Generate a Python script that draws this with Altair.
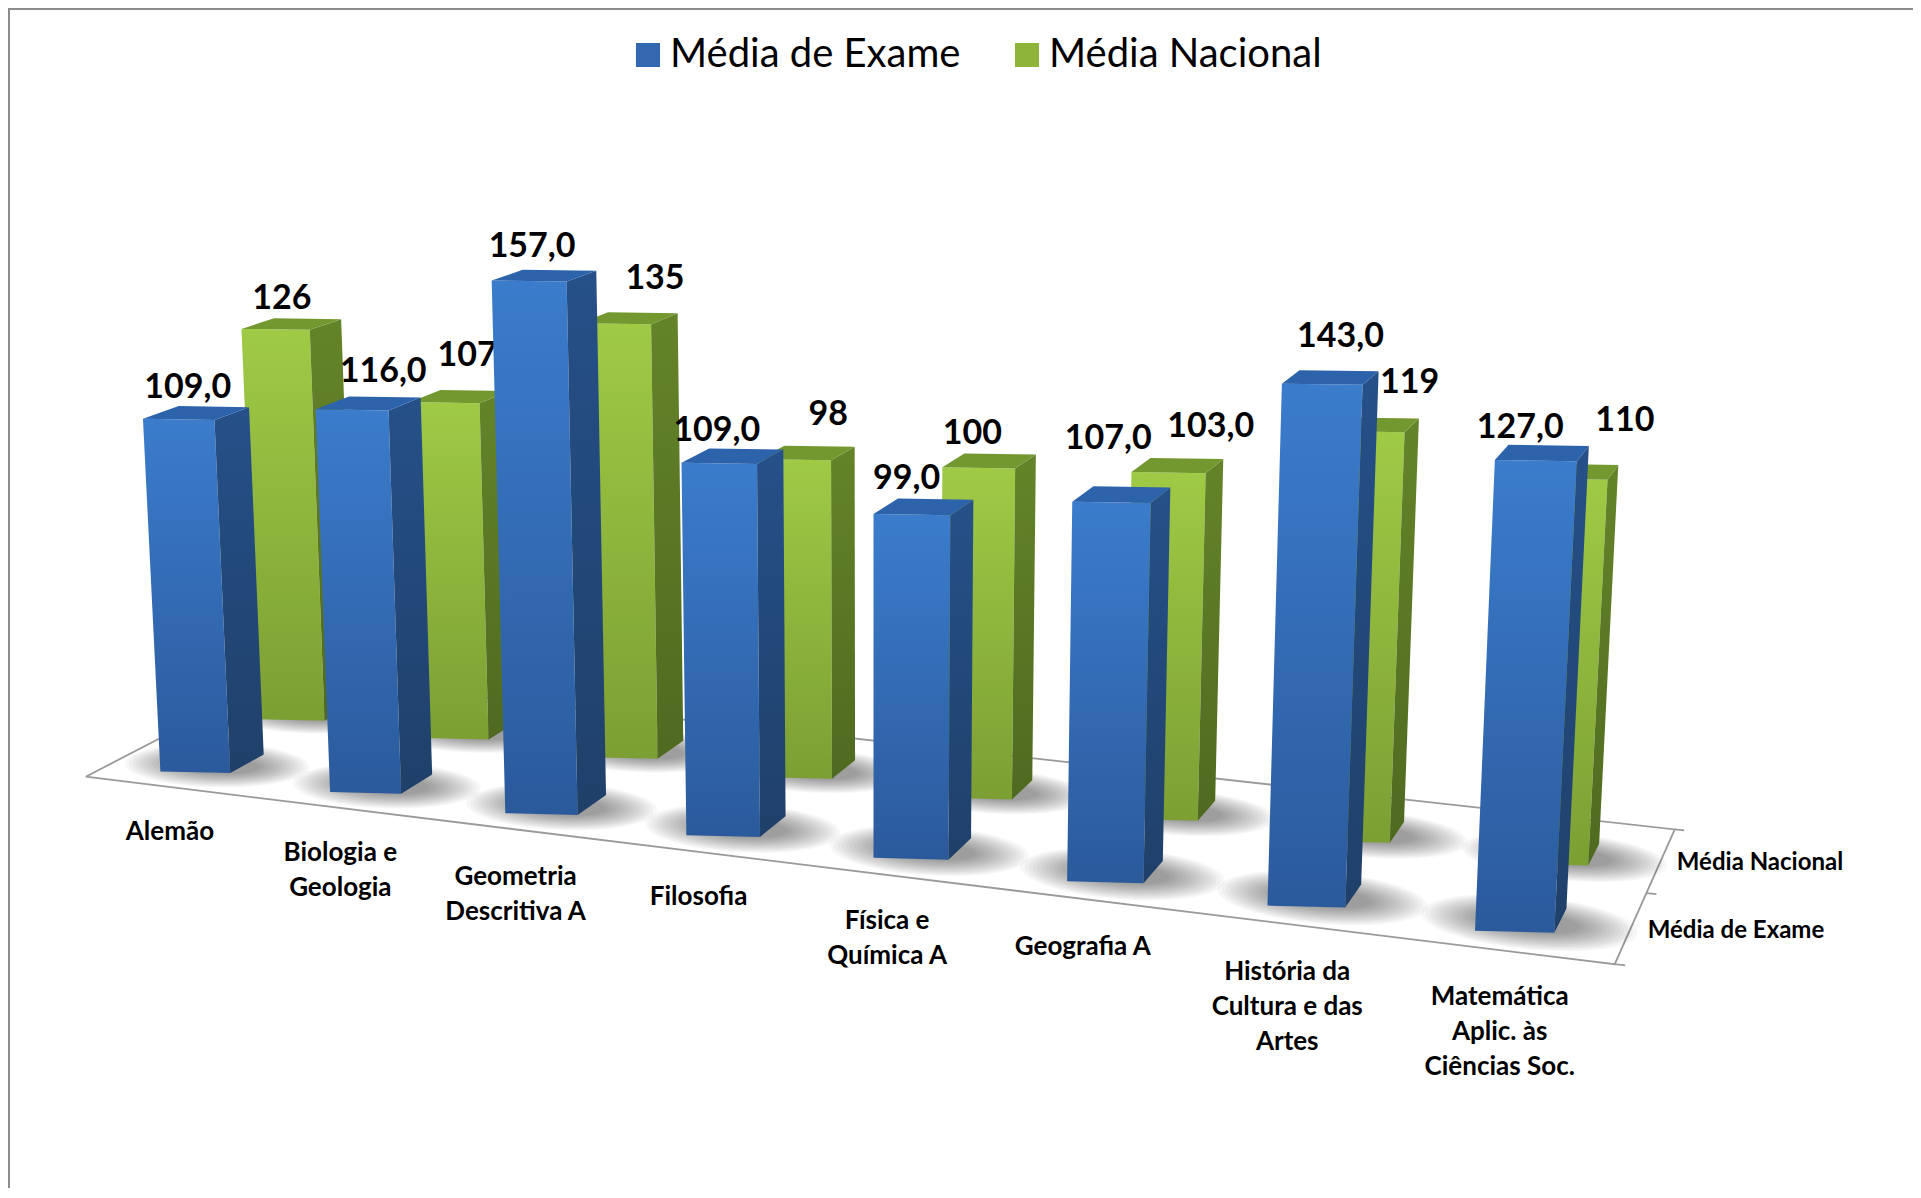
import math
import altair as alt

# ---- values ----
CATEGORIES = ["Alemão", "Biologia e\nGeologia", "Geometria\nDescritiva A", "Filosofia",
              "Física e\nQuímica A", "Geografia A", "História da\nCultura e das\nArtes",
              "Matemática\nAplic. às\nCiências Soc."]
SERIES = ["Média de Exame", "Média Nacional"]
EXAME = [109, 116, 157, 109, 99, 107, 143, 127]
NACIONAL = [126, 107, 135, 98, 100, 103, 119, 110]
EXAME_TEXT = ["109,0", "116,0", "157,0", "109,0", "99,0", "107,0", "143,0", "127,0"]
NACIONAL_TEXT = ["126", "107", "135", "98", "100", "103,0", "119", "110"]

# ---- style ----
W, H = 1905, 1180
S = 1921 / 1568
OFF = 8
BLUE_TOP, BLUE_MID, BLUE_LOW, BLUE_SIDE1, BLUE_SIDE2, BLUE_CAP = "#3b7ccc", "#3268b0", "#2b5a9c", "#265089", "#1f4069", "#2c63ab"
GRN_TOP, GRN_LOW, GRN_SIDE1, GRN_SIDE2, GRN_CAP = "#9fca45", "#7c9f33", "#648429", "#4f6a20", "#73982f"
FONT = "Lato"

# label nudges, in overview pixels
EXAME_NUDGE = [(3, 5), (22, 0), (0, 1), (-3, 6), (-4, 4), (-1, -19), (18, -7), (-8, 6)]
NACIONAL_NUDGE = [(-16, 4), (-2, -8), (13, -7), (9, -5), (-22, 4), (19, -5), (21, -8), (33, -15)]
CAT_SHIFT = [(64, -9), (58, -10), (51, -10), (45, -13), (38, -14), (31, -14), (25, -16), (19, -18)]

# ---- the perspective floor: corners in reference overview pixels ----
FL, FR, BR, BL = (70, 634), (1318, 787), (1367, 677), (230, 551)
VP = (713, 12400)
KZ = 2.2e-4
KZ_GROW = 0.025
BAR_DU, BAR_DV, BAR_DEPTH = 0.0445, 0.05, 0.17
V_ROW = {0: 0.105, 1: 0.60}

dx1, dx2, sx = FR[0] - BR[0], BL[0] - BR[0], FL[0] - FR[0] + BR[0] - BL[0]
dy1, dy2, sy = FR[1] - BR[1], BL[1] - BR[1], FL[1] - FR[1] + BR[1] - BL[1]
den = dx1 * dy2 - dx2 * dy1
G = (sx * dy2 - dx2 * sy) / den
Hh = (dx1 * sy - sx * dy1) / den
A = (FR[0] - FL[0] + G * FR[0], BL[0] - FL[0] + Hh * BL[0], FL[0])
B = (FR[1] - FL[1] + G * FR[1], BL[1] - FL[1] + Hh * BL[1], FL[1])


def proj(u, v, val=0):
    w = 1 + G * u + Hh * v
    nx = A[0] * u + A[1] * v + A[2]
    ny = B[0] * u + B[1] * v + B[2]
    kv = KZ * (1 + KZ_GROW * u) * val
    return ((nx - kv * VP[0]) / (w - kv) * S - OFF, (ny - kv * VP[1]) / (w - kv) * S - OFF)


def poly(points, series="", name=""):
    ring = [list(p) for p in points] + [list(points[0])]
    return {"type": "Feature", "properties": {"series": series, "name": name},
            "geometry": {"type": "Polygon", "coordinates": [ring]}}


def line(points):
    return {"type": "Feature", "properties": {},
            "geometry": {"type": "LineString", "coordinates": [list(p) for p in points]}}


def box(i, s, val):
    uc = (i + 0.5) / 8 - 0.001
    u0 = uc - BAR_DU / 2
    u1 = uc + BAR_DU / 2
    v0 = V_ROW[s]
    v1 = v0 + BAR_DV
    d = BAR_DEPTH
    fl, fr = (u0, v0), (u1, v1)
    bl, br = (u0, v0 + d), (u1, v1 + d)
    front = [proj(*fl, val), proj(*fr, val), proj(*fr), proj(*fl)]
    side = [proj(*fr, val), proj(*br, val), proj(*br), proj(*fr)]
    top = [proj(*fl, val), proj(*fr, val), proj(*br, val), proj(*bl, val)]
    return front, side, top


def shadow(i, s):
    uc = (i + 0.5) / 8 + 0.004
    vc = V_ROW[s] + 0.10
    out = []
    for k in range(14):
        ru = 0.030 + 0.0026 * k
        rv = 0.07 + 0.0085 * k
        pts = [proj(uc + ru * math.cos(t * math.pi / 18), vc + rv * math.sin(t * math.pi / 18)) for t in range(36)]
        out.append(poly(pts))
    return out


ROWS = [(1, NACIONAL, NACIONAL_TEXT, NACIONAL_NUDGE), (0, EXAME, EXAME_TEXT, EXAME_NUDGE)]
geo = {s: {"front": [], "side": [], "top": [], "shadow": [], "label": []} for s, _, _, _ in ROWS}
for s, vals, texts, nudges in ROWS:
    for i, val in enumerate(vals):
        f, sd, t = box(i, s, val)
        geo[s]["front"].append(poly(f, SERIES[s]))
        geo[s]["side"].append(poly(sd, SERIES[s]))
        geo[s]["top"].append(poly(t, SERIES[s]))
        geo[s]["shadow"].extend(shadow(i, s))
        cx = sum(p[0] for p in t) / 4
        cy = min(p[1] for p in t)
        geo[s]["label"].append({"x": cx + ((-10 if s == 0 else 8) + nudges[i][0]) * S,
                                "y": cy + (-6 + nudges[i][1]) * S, "t": texts[i]})


def identity(chart):
    return chart.project(type="identity", scale=1, translate=[0, 0])


def shape(features, **kw):
    return identity(alt.Chart(alt.Data(values=features)).mark_geoshape(**kw))


def grad(c1, c2):
    return alt.Gradient(gradient="linear", x1=0, y1=0, x2=0, y2=1,
                        stops=[alt.GradientStop(offset=0, color=c1), alt.GradientStop(offset=1, color=c2)])


X = alt.X("x:Q", scale=alt.Scale(domain=[0, W], range=[0, W]), axis=None)
Y = alt.Y("y:Q", scale=alt.Scale(domain=[0, H], range=[0, H]), axis=None)


def labels(rows, size=34, **kw):
    return alt.Chart(alt.Data(values=rows)).mark_text(
        font=FONT, fontWeight="bold", fontSize=size, color="#000000", **kw
    ).encode(x=X, y=Y, text="t:N")


floor_lines = [line([proj(0, 0), proj(1, 0), proj(1, 1), proj(0, 1), proj(0, 0)])]
for v in (0, 0.5, 1):
    floor_lines.append(line([proj(1, v), proj(1.006, v)]))

floor = shape(floor_lines, fillOpacity=0, filled=False, stroke="#9a9a9a", strokeWidth=1.8)


def shadows(s):
    return shape(geo[s]["shadow"], fill="#000000", fillOpacity=0.03, stroke=None)


legend_scale = alt.Scale(domain=SERIES, range=[BLUE_MID, "#8fb43a"])
legend = alt.Legend(title=None, orient="none", legendX=620, legendY=22, direction="horizontal",
                    symbolType="square", symbolSize=580, symbolStrokeWidth=0, labelFont=FONT,
                    labelFontSize=40, labelColor="#000000", labelOffset=2, columnPadding=46,
                    labelLimit=400, clipHeight=50)

legend_layer = identity(
    alt.Chart(alt.Data(values=[poly([proj(0.5, 0.5)] * 3, n, n) for n in SERIES])).mark_geoshape(strokeWidth=0)
).encode(color=alt.Color("properties.series:N", scale=legend_scale, legend=legend))


def top_layer(s):
    return shape(geo[s]["top"], fill=BLUE_CAP if s == 0 else GRN_CAP, stroke=None)


border = alt.Chart(alt.Data(values=[{"a": 1}])).mark_rule(color="#8c8c8c", strokeWidth=2)
border_top = border.encode(x=alt.value(0), x2=alt.value(W), y=alt.value(1))
border_left = border.encode(x=alt.value(1), y=alt.value(0), y2=alt.value(H))

cat_rows = []
for i, name in enumerate(CATEGORIES):
    px, py = proj((i + 0.5) / 8, -0.36)
    cat_rows.append({"x": px + CAT_SHIFT[i][0] * S, "y": py + CAT_SHIFT[i][1] * S, "t": name})

depth_rows = []
for name, v in zip(SERIES, (0.25, 0.75)):
    px, py = proj(1.066, v)
    depth_rows.append({"x": px - 7 * S, "y": py - 8 * S, "t": name})

layers = [
    border_top, border_left, legend_layer, floor,
    shadows(1),
    shape(geo[1]["front"], fill=grad(GRN_TOP, GRN_LOW), stroke=None),
    shape(geo[1]["side"], fill=grad(GRN_SIDE1, GRN_SIDE2), stroke=None),
    top_layer(1),
    labels(geo[1]["label"], baseline="bottom", align="center"),
    labels(geo[0]["label"], baseline="bottom", align="center"),
    shadows(0),
    shape(geo[0]["front"], fill=grad(BLUE_TOP, BLUE_LOW), stroke=None),
    shape(geo[0]["side"], fill=grad(BLUE_SIDE1, BLUE_SIDE2), stroke=None),
    top_layer(0),
    labels(cat_rows, size=26, align="center", baseline="top", lineHeight=35, lineBreak="\n"),
    labels(depth_rows, size=24, align="center", baseline="middle"),
]

chart = alt.layer(*layers).properties(
    width=W, height=H, padding=0, autosize=alt.AutoSizeParams(type="none"), background="white"
).configure_view(stroke=None)

chart.save("out.html", embed_options={"renderer": "svg", "actions": False})
